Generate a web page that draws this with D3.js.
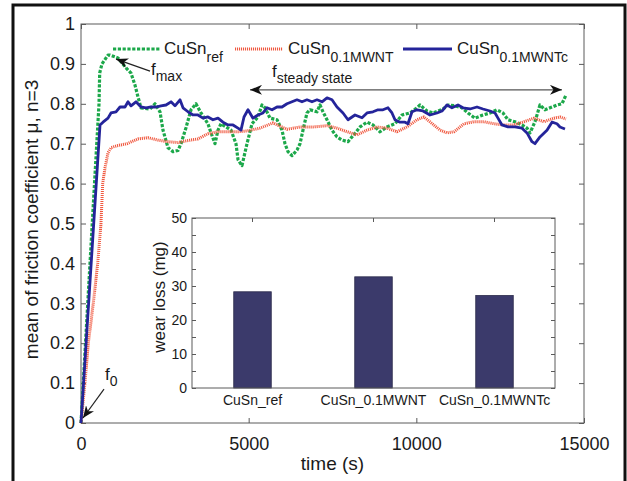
<!DOCTYPE html>
<html><head><meta charset="utf-8">
<script src="https://cdn.jsdelivr.net/npm/d3@7"></script>
<style>
html,body{margin:0;padding:0;background:#fff;}
svg{display:block;font-family:"Liberation Sans",Arial,sans-serif;}
</style></head>
<body>
<svg id="chart" width="627" height="481"></svg>
<script>
// ---------- data ----------
const xTicks = [0, 5000, 10000, 15000];
const yTicks = [0, 0.1, 0.2, 0.3, 0.4, 0.5, 0.6, 0.7, 0.8, 0.9, 1];

const refTime = [0,537,557,626,805,865,1103,1342,1491,1610,1700,1789,2058,2207,2356,2445,2594,2743,2893,2982,3131,3280,3429,3578,3787,3877,3996,4085,4175,4324,4473,4622,4682,4800,4950,5100,5278,5397,5487,5636,5845,5994,6083,6173,6292,6441,6531,6620,6739,6829,7038,7127,7216,7336,7485,7634,7783,7962,8111,8320,8529,8707,8916,9125,9363,9572,9811,10020,10109,10318,10497,10795,10944,11153,11361,11540,11749,11988,12196,12405,12584,12733,12942,13151,13300,13389,13538,13687,13836,13986,14194,14343,14463];
const refMu = [0,0.80,0.877,0.90,0.922,0.922,0.915,0.89,0.877,0.847,0.817,0.79,0.787,0.80,0.78,0.734,0.69,0.68,0.683,0.70,0.74,0.785,0.80,0.777,0.75,0.727,0.70,0.734,0.75,0.742,0.734,0.70,0.66,0.645,0.70,0.75,0.767,0.797,0.79,0.764,0.76,0.734,0.70,0.68,0.67,0.684,0.70,0.734,0.777,0.785,0.78,0.797,0.78,0.76,0.734,0.717,0.709,0.705,0.72,0.742,0.754,0.747,0.73,0.742,0.75,0.772,0.777,0.79,0.797,0.782,0.777,0.787,0.797,0.795,0.79,0.777,0.764,0.772,0.777,0.785,0.777,0.76,0.755,0.747,0.739,0.727,0.755,0.797,0.785,0.79,0.797,0.80,0.822];

const mwntTime = [0,119,218,367,498,596,647,716,805,895,1074,1372,1700,1998,2296,2594,2893,3191,3489,3787,4085,4354,4682,4950,5338,5725,6143,6531,6918,7336,7634,7932,8230,8529,8827,9125,9423,9722,10020,10228,10407,10705,10914,11123,11421,11719,12017,12316,12614,12912,13210,13508,13806,14104,14283,14463];
const mwntMu = [0,0.1,0.2,0.3,0.4,0.5,0.6,0.64,0.677,0.69,0.695,0.70,0.712,0.715,0.709,0.705,0.703,0.708,0.712,0.725,0.73,0.73,0.73,0.732,0.739,0.752,0.736,0.742,0.742,0.745,0.739,0.73,0.722,0.734,0.742,0.739,0.73,0.742,0.76,0.767,0.755,0.734,0.727,0.73,0.75,0.755,0.755,0.75,0.747,0.747,0.755,0.764,0.755,0.764,0.767,0.762];

const mwntcTime = [0,567,656,805,895,1044,1163,1312,1402,1491,1640,1789,1938,2087,2237,2386,2535,2684,2803,2952,3042,3191,3340,3489,3638,3787,3936,4085,4234,4384,4533,4682,4771,4861,4980,5129,5278,5427,5547,5696,5845,5994,6143,6292,6441,6590,6739,6888,7038,7187,7336,7485,7634,7813,7962,8171,8380,8529,8707,8857,9006,9155,9274,9363,9513,9662,9751,9871,10020,10198,10407,10616,10765,10914,11063,11242,11391,11600,11809,11988,12196,12346,12435,12554,12733,12942,13151,13300,13449,13538,13687,13896,14045,14194,14283,14433];
const mwntcMu = [0,0.747,0.754,0.764,0.777,0.78,0.792,0.792,0.805,0.795,0.805,0.792,0.79,0.792,0.792,0.795,0.797,0.805,0.795,0.81,0.79,0.78,0.772,0.772,0.764,0.767,0.76,0.764,0.754,0.747,0.747,0.739,0.734,0.767,0.785,0.764,0.772,0.777,0.79,0.785,0.792,0.792,0.80,0.805,0.81,0.805,0.81,0.805,0.81,0.805,0.815,0.81,0.792,0.777,0.76,0.772,0.765,0.777,0.78,0.785,0.785,0.79,0.777,0.76,0.754,0.754,0.75,0.78,0.785,0.782,0.772,0.777,0.782,0.797,0.79,0.797,0.79,0.787,0.792,0.787,0.782,0.777,0.764,0.747,0.742,0.742,0.739,0.727,0.705,0.70,0.717,0.734,0.754,0.75,0.742,0.737];

const barCategories = ["CuSn_ref", "CuSn_0.1MWNT", "CuSn_0.1MWNTc"];
const wearLoss = [28.3, 32.7, 27.2];
const insetYTicks = [0, 5, 10, 15, 20, 25, 30, 35, 40, 45, 50];

// ---------- setup ----------
const svg = d3.select("#chart");
const W = 627, H = 481;
svg.append("rect").attr("width", W).attr("height", H).attr("fill", "#fff");

const axisCol = "#5a5a5a";
const textCol = "#1a1a1a";

const L = 81, R = 584, T = 24, B = 423;
const x = d3.scaleLinear().domain([0, 15000]).range([L, R]);
const y = d3.scaleLinear().domain([0, 1]).range([B, T]);

// outer frame
svg.append("rect").attr("x", 13).attr("y", 5).attr("width", 612).attr("height", 500)
  .attr("fill", "none").attr("stroke", "#111").attr("stroke-width", 3);

// ---------- defs: arrowheads ----------
const defs = svg.append("defs");
defs.append("marker").attr("id", "ah").attr("viewBox", "0 0 12 10")
  .attr("refX", 12).attr("refY", 5).attr("markerWidth", 12).attr("markerHeight", 10)
  .attr("markerUnits", "userSpaceOnUse").attr("orient", "auto-start-reverse")
  .append("path").attr("d", "M0,0 L12,5 L0,10 L3.5,5 Z").attr("fill", "#111");

// ---------- main axes ----------
const gAx = svg.append("g");
function styleAxis(g){
  g.select(".domain").remove();
  g.selectAll(".tick line").attr("stroke", axisCol);
  g.selectAll(".tick text").attr("fill", textCol).attr("font-size", 18)
    .attr("font-family", "Liberation Sans, Arial, sans-serif");
}
gAx.append("g").attr("transform", `translate(0,${B})`)
  .call(d3.axisBottom(x).tickValues(xTicks).tickSize(-5).tickPadding(14).tickFormat(d3.format("d")))
  .call(styleAxis);
gAx.append("g").attr("transform", `translate(0,${T})`)
  .call(d3.axisTop(x).tickValues(xTicks).tickSize(-5).tickFormat(""))
  .call(styleAxis);
gAx.append("g").attr("transform", `translate(${L},0)`)
  .call(d3.axisLeft(y).tickValues(yTicks).tickSize(-5).tickPadding(6).tickFormat(d => d === 0 || d === 1 ? d3.format("d")(d) : d3.format(".1f")(d)))
  .call(styleAxis);
gAx.append("g").attr("transform", `translate(${R},0)`)
  .call(d3.axisRight(y).tickValues(yTicks).tickSize(-5).tickFormat(""))
  .call(styleAxis);
svg.append("rect").attr("x", L).attr("y", T).attr("width", R - L).attr("height", B - T)
  .attr("fill", "none").attr("stroke", axisCol).attr("stroke-width", 1);

// axis labels
svg.append("text").attr("x", (L + R) / 2).attr("y", 470).attr("text-anchor", "middle")
  .attr("font-size", 19).attr("fill", textCol).text("time (s)");
svg.append("text").attr("transform", `translate(38,${(T + B) / 2 - 4}) rotate(-90)`)
  .attr("text-anchor", "middle").attr("font-size", 19).attr("fill", textCol)
  .text("mean of friction coefficient  \u03bc, n=3");

// ---------- curves ----------
const line = d3.line().x(d => x(d[0])).y(d => y(d[1]));
const series = [
  {t: refTime, v: refMu, color: "#1ca84a", width: 3.2, dash: "3.2,1.6"},
  {t: mwntTime, v: mwntMu, color: "#f0583f", width: 3, dash: "1.1,0.9"},
  {t: mwntcTime, v: mwntcMu, color: "#24249a", width: 2.8, dash: null}
];
series.forEach(s => {
  const pts = s.t.map((t, i) => [t, s.v[i]]);
  svg.append("path").datum(pts).attr("d", line).attr("fill", "none")
    .attr("stroke", s.color).attr("stroke-width", s.width)
    .attr("stroke-dasharray", s.dash).attr("stroke-linejoin", "round");
});

// ---------- legend ----------
const legend = [
  {x0: 113, x1: 160, tx: 164, name: "ref", s: series[0]},
  {x0: 235, x1: 283, tx: 288, name: "0.1MWNT", s: series[1]},
  {x0: 403, x1: 452, tx: 457, name: "0.1MWNTc", s: series[2]}
];
legend.forEach(l => {
  svg.append("line").attr("x1", l.x0).attr("x2", l.x1).attr("y1", 49).attr("y2", 49)
    .attr("stroke", l.s.color).attr("stroke-width", l.s.width).attr("stroke-dasharray", l.s.dash);
  const t = svg.append("text").attr("x", l.tx).attr("y", 54).attr("font-size", 17).attr("fill", textCol);
  t.append("tspan").text("CuSn");
  t.append("tspan").attr("dy", 8).attr("font-size", 14).text(l.name);
});

// ---------- annotations ----------
function arrow(t0, m0, t1, m1, both, col){
  svg.append("line").attr("x1", x(t0)).attr("y1", y(m0)).attr("x2", x(t1)).attr("y2", y(m1))
    .attr("stroke", col || "#222").attr("stroke-width", 1.2)
    .attr("marker-end", "url(#ah)").attr("marker-start", both ? "url(#ah)" : null);
}
function fLabel(t, m, sub){
  const tx = svg.append("text").attr("x", x(t)).attr("y", y(m)).attr("font-size", 17).attr("fill", textCol);
  tx.append("tspan").text("f");
  tx.append("tspan").attr("dy", 6).attr("font-size", 14).text(sub);
}
arrow(2058, 0.882, 1044, 0.912, false);
fLabel(2087, 0.872, "max");
arrow(5040, 0.835, 14343, 0.835, true, "#555");
fLabel(5696, 0.867, "steady state");
arrow(686, 0.085, 60, 0.0125, false);
fLabel(715, 0.108, "0");

// ---------- inset bar chart ----------
const iL = 192, iR = 555, iT = 218, iB = 388;
const xi = d3.scaleBand().domain(barCategories).range([iL, iR]).paddingInner(0.69).paddingOuter(0.345);
const yi = d3.scaleLinear().domain([0, 50]).range([iB, iT]);
svg.append("rect").attr("x", iL).attr("y", iT).attr("width", iR - iL).attr("height", iB - iT).attr("fill", "#fff");

function styleInset(g){
  g.select(".domain").remove();
  g.selectAll(".tick line").attr("stroke", axisCol);
  g.selectAll(".tick text").attr("fill", textCol).attr("font-size", 14)
    .attr("font-family", "Liberation Sans, Arial, sans-serif");
}
svg.append("g").attr("transform", `translate(0,${iB})`)
  .call(d3.axisBottom(xi).tickSize(-4).tickPadding(7)).call(styleInset);
svg.append("g").attr("transform", `translate(0,${iT})`)
  .call(d3.axisTop(xi).tickSize(-4).tickFormat("")).call(styleInset);
svg.append("g").attr("transform", `translate(${iL},0)`)
  .call(d3.axisLeft(yi).tickValues(insetYTicks).tickSize(-4).tickPadding(5).tickFormat(d => d % 10 === 0 ? d : ""))
  .call(styleInset);
svg.append("g").attr("transform", `translate(${iR},0)`)
  .call(d3.axisRight(yi).tickValues(insetYTicks).tickSize(-4).tickFormat("")).call(styleInset);

svg.append("g").selectAll("rect").data(barCategories).join("rect")
  .attr("x", d => xi(d)).attr("width", xi.bandwidth())
  .attr("y", (d, i) => yi(wearLoss[i])).attr("height", (d, i) => iB - yi(wearLoss[i]))
  .attr("fill", "#3b3a6b").attr("stroke", "#2a2a4a").attr("stroke-width", 0.8);

svg.append("rect").attr("x", iL).attr("y", iT).attr("width", iR - iL).attr("height", iB - iT)
  .attr("fill", "none").attr("stroke", axisCol).attr("stroke-width", 1);
svg.append("text").attr("transform", `translate(165,${(iT + iB) / 2 - 6}) rotate(-90)`)
  .attr("text-anchor", "middle").attr("font-size", 17).attr("fill", textCol).text("wear loss (mg)");
</script>
</body></html>
